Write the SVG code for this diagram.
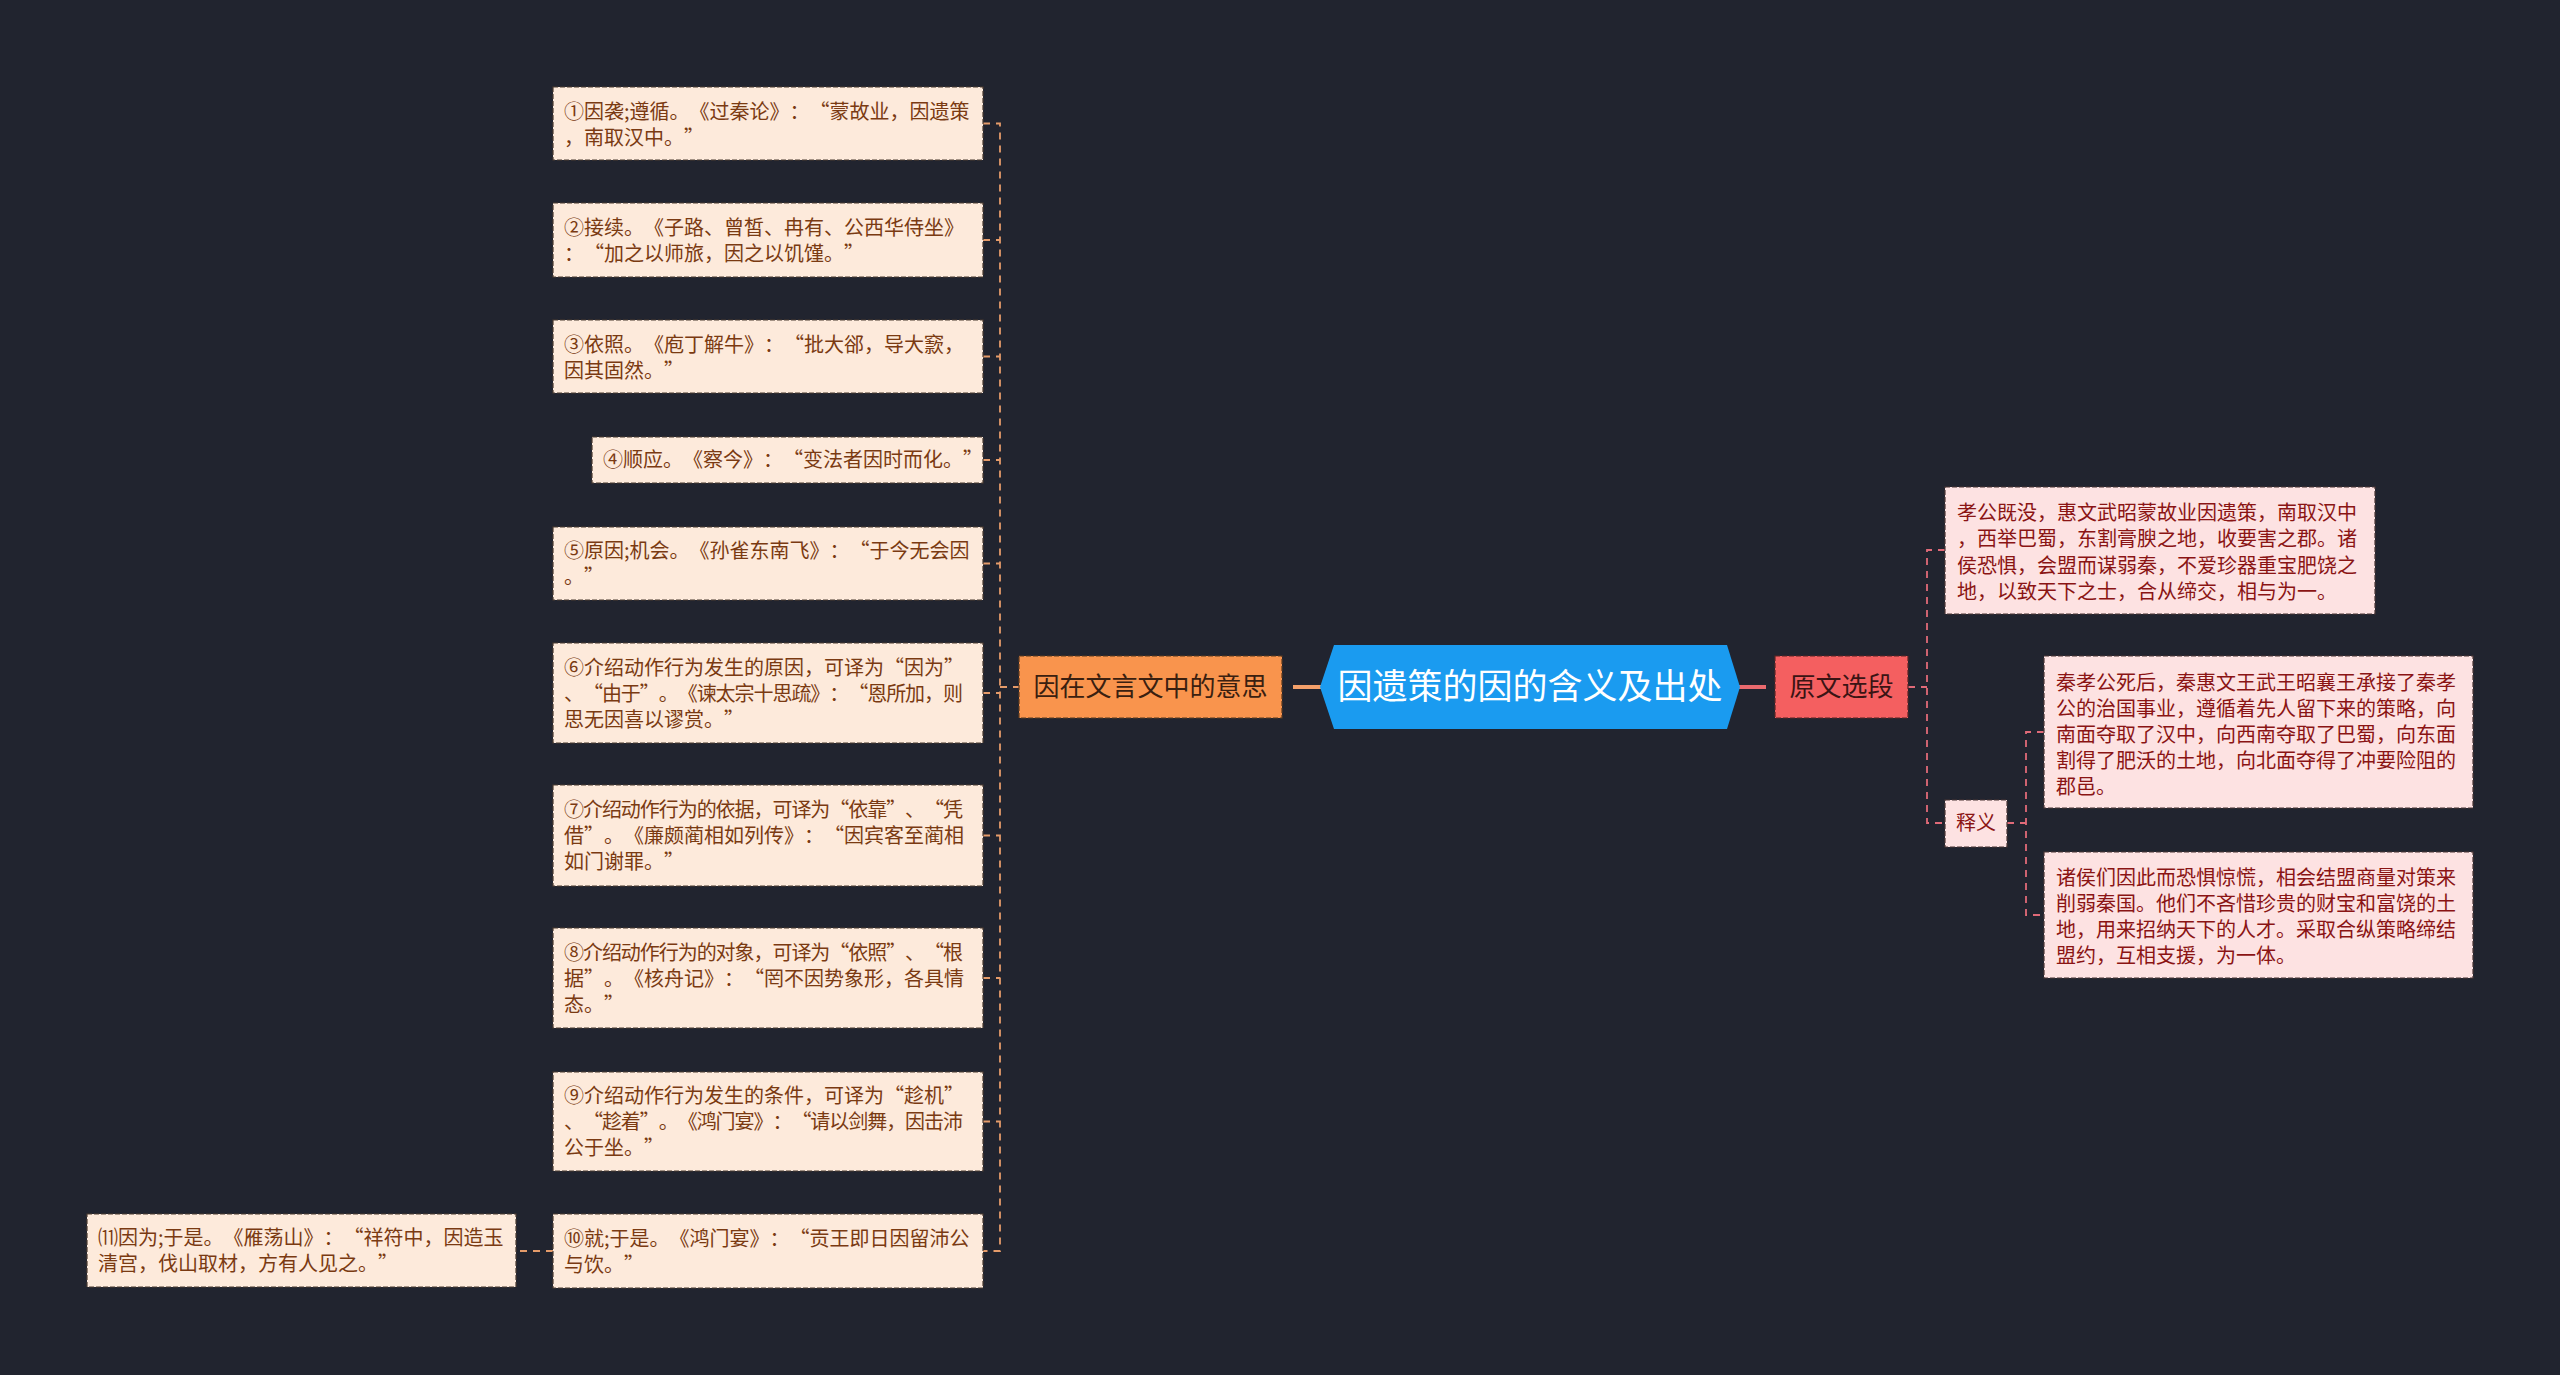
<svg xmlns="http://www.w3.org/2000/svg" width="2560" height="1375" viewBox="0 0 2560 1375" xml:lang="zh-CN" lang="zh-CN">
<style>
text{font-family:"Noto Sans CJK SC","Noto Sans",sans-serif;text-spacing-trim:space-all}
.ln{fill:#FDEADB;stroke:#4a3a30;stroke-width:1.2;stroke-dasharray:5 2}
.lt{font-size:20px;fill:#7A3A12}
.rn{fill:#FDE2E2;stroke:#4a3535;stroke-width:1.2;stroke-dasharray:5 2}
.rt{font-size:20px;fill:#8A1414}
.cl{fill:none;stroke:#E59B6A;stroke-width:1.8;stroke-dasharray:7 6}
.cr{fill:none;stroke:#E06A78;stroke-width:1.8;stroke-dasharray:7 6}
</style>
<rect width="2560" height="1375" fill="#21242F"/>
<g id="connectors">
<path class="cl" d="M983 123.5H1000V1251H983M983 240H1000M983 356.5H1000M983 460H1000M983 563.5H1000M983 693H1000M983 835.5H1000M983 978H1000M983 1121.5H1000M1000 687H1019"/>
<path class="cl" d="M553 1251H516"/>
<line x1="1293" y1="687" x2="1321" y2="687" stroke="#F4A06A" stroke-width="4"/>
<line x1="1738" y1="687" x2="1766" y2="687" stroke="#EA6A6E" stroke-width="4"/>
<path class="cr" d="M1908 687H1927M1945 550H1927V823H1945M2007 823H2026M2044 732H2026V915H2044"/>
</g>
<g id="center">
<polygon points="1334,645 1727,645 1740,687 1727,729 1334,729 1320,687" fill="#1A9BF0"/>
<text x="1530" y="699" font-size="35" fill="#FFFFFF" text-anchor="middle">因遗策的因的含义及出处</text>
</g>
<g id="branch-left">
<rect x="1019" y="656" width="263" height="62" fill="#F9944D" stroke="#5a3a20" stroke-width="1.2" stroke-dasharray="5 2"/>
<text x="1150.5" y="696" font-size="26" fill="#3a2010" text-anchor="middle">因在文言文中的意思</text>
</g>
<g id="branch-right">
<rect x="1775" y="656" width="133" height="62" fill="#F45F60" stroke="#5a2525" stroke-width="1.2" stroke-dasharray="5 2"/>
<text x="1841.5" y="696" font-size="26" fill="#3a1414" text-anchor="middle">原文选段</text>
</g>
<g id="n1"><rect class="ln" x="553" y="87" width="430" height="73"/>
<text class="lt" x="564" y="119">①因袭;遵循。《过秦论》：“蒙故业，因遗策</text>
<text class="lt" x="564" y="145">，南取汉中。”</text></g>
<g id="n2"><rect class="ln" x="553" y="203" width="430" height="74"/>
<text class="lt" x="564" y="235">②接续。《子路、曾皙、冉有、公西华侍坐》</text>
<text class="lt" x="564" y="261">：“加之以师旅，因之以饥馑。”</text></g>
<g id="n3"><rect class="ln" x="553" y="320" width="430" height="73"/>
<text class="lt" x="564" y="352">③依照。《庖丁解牛》：“批大郤，导大窾，</text>
<text class="lt" x="564" y="378">因其固然。”</text></g>
<g id="n4"><rect class="ln" x="592" y="437" width="391" height="46"/>
<text class="lt" x="603" y="467">④顺应。《察今》：“变法者因时而化。”</text></g>
<g id="n5"><rect class="ln" x="553" y="527" width="430" height="73"/>
<text class="lt" x="564" y="558">⑤原因;机会。《孙雀东南飞》：“于今无会因</text>
<text class="lt" x="564" y="584">。”</text></g>
<g id="n6"><rect class="ln" x="553" y="643" width="430" height="100"/>
<text class="lt" x="564" y="675">⑥介绍动作行为发生的原因，可译为“因为”</text>
<text class="lt" x="564" y="701" textLength="399" lengthAdjust="spacing">、“由于”。《谏太宗十思疏》：“恩所加，则</text>
<text class="lt" x="564" y="727">思无因喜以谬赏。”</text></g>
<g id="n7"><rect class="ln" x="553" y="785" width="430" height="101"/>
<text class="lt" x="564" y="817" textLength="399" lengthAdjust="spacing">⑦介绍动作行为的依据，可译为“依靠”、“凭</text>
<text class="lt" x="564" y="843">借”。《廉颇蔺相如列传》：“因宾客至蔺相</text>
<text class="lt" x="564" y="869">如门谢罪。”</text></g>
<g id="n8"><rect class="ln" x="553" y="928" width="430" height="100"/>
<text class="lt" x="564" y="960" textLength="399" lengthAdjust="spacing">⑧介绍动作行为的对象，可译为“依照”、“根</text>
<text class="lt" x="564" y="986">据”。《核舟记》：“罔不因势象形，各具情</text>
<text class="lt" x="564" y="1012">态。”</text></g>
<g id="n9"><rect class="ln" x="553" y="1072" width="430" height="99"/>
<text class="lt" x="564" y="1103">⑨介绍动作行为发生的条件，可译为“趁机”</text>
<text class="lt" x="564" y="1129" textLength="399" lengthAdjust="spacing">、“趁着”。《鸿门宴》：“请以剑舞，因击沛</text>
<text class="lt" x="564" y="1155">公于坐。”</text></g>
<g id="n10"><rect class="ln" x="553" y="1214" width="430" height="74"/>
<text class="lt" x="564" y="1246">⑩就;于是。《鸿门宴》：“贡王即日因留沛公</text>
<text class="lt" x="564" y="1272">与饮。”</text></g>
<g id="n11"><rect class="ln" x="87" y="1214" width="429" height="73"/>
<text class="lt" x="98" y="1245">⑾因为;于是。《雁荡山》：“祥符中，因造玉</text>
<text class="lt" x="98" y="1271">清宫，伐山取材，方有人见之。”</text></g>
<g id="r1"><rect class="rn" x="1945" y="487" width="430" height="127"/>
<text class="rt" x="1957" y="520">孝公既没，惠文武昭蒙故业因遗策，南取汉中</text>
<text class="rt" x="1957" y="546">，西举巴蜀，东割膏腴之地，收要害之郡。诸</text>
<text class="rt" x="1957" y="573">侯恐惧，会盟而谋弱秦，不爱珍器重宝肥饶之</text>
<text class="rt" x="1957" y="599">地，以致天下之士，合从缔交，相与为一。</text></g>
<g id="shiyi"><rect class="rn" x="1945" y="800" width="62" height="47"/>
<text class="rt" x="1976" y="830" text-anchor="middle">释义</text></g>
<g id="r2"><rect class="rn" x="2044" y="656" width="429" height="152"/>
<text class="rt" x="2056" y="690">秦孝公死后，秦惠文王武王昭襄王承接了秦孝</text>
<text class="rt" x="2056" y="716">公的治国事业，遵循着先人留下来的策略，向</text>
<text class="rt" x="2056" y="742">南面夺取了汉中，向西南夺取了巴蜀，向东面</text>
<text class="rt" x="2056" y="768">割得了肥沃的土地，向北面夺得了冲要险阻的</text>
<text class="rt" x="2056" y="794">郡邑。</text></g>
<g id="r3"><rect class="rn" x="2044" y="852" width="429" height="126"/>
<text class="rt" x="2056" y="885">诸侯们因此而恐惧惊慌，相会结盟商量对策来</text>
<text class="rt" x="2056" y="911">削弱秦国。他们不吝惜珍贵的财宝和富饶的土</text>
<text class="rt" x="2056" y="937">地，用来招纳天下的人才。采取合纵策略缔结</text>
<text class="rt" x="2056" y="963">盟约，互相支援，为一体。</text></g>
</svg>
